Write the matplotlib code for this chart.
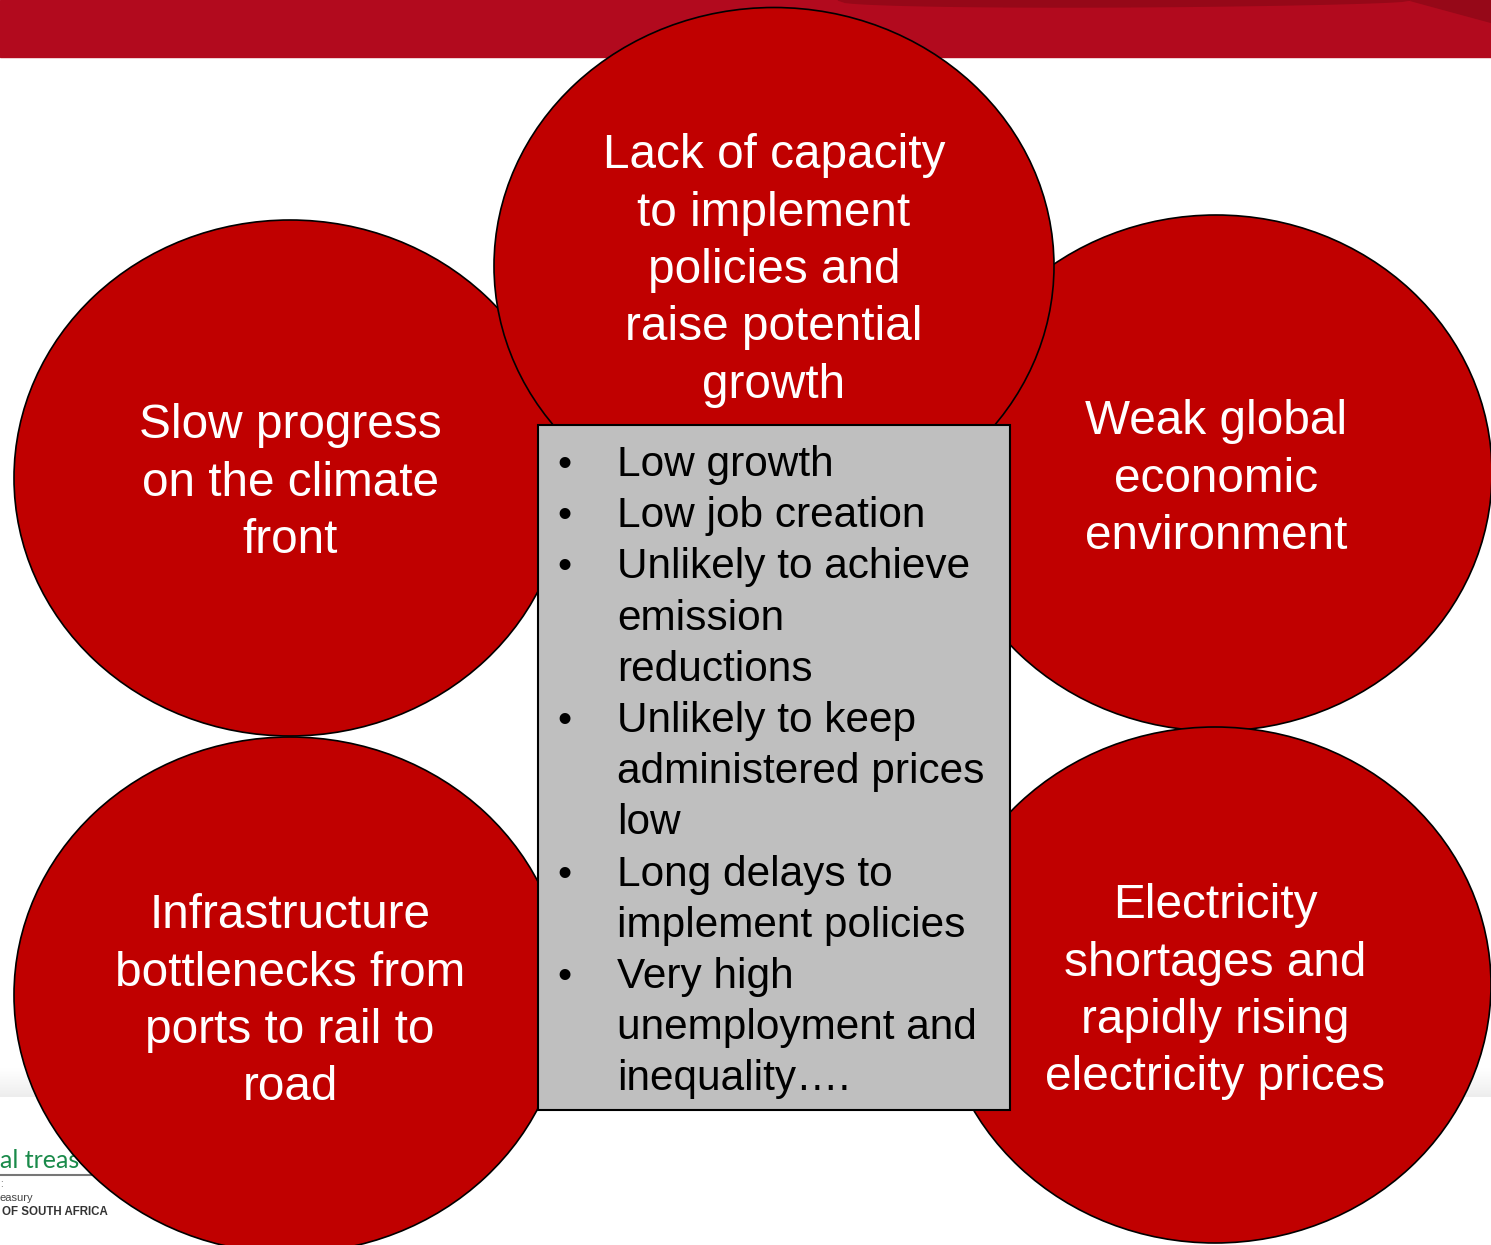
import numpy as np
import matplotlib.pyplot as plt
from matplotlib.patches import Ellipse, Rectangle, Polygon

plt.rcParams['font.family'] = ['Liberation Sans', 'DejaVu Sans']

# texts of the five circles
circle_labels = [
    ["Lack of capacity", "to implement", "policies and", "raise potential", "growth"],
    ["Slow progress", "on the climate", "front"],
    ["Weak global", "economic", "environment"],
    ["Infrastructure", "bottlenecks from", "ports to rail to", "road"],
    ["Electricity", "shortages and", "rapidly rising", "electricity prices"],
]

# bullet items of the central box, already wrapped
box_items = [
    ["Low growth"],
    ["Low job creation"],
    ["Unlikely to achieve", "emission", "reductions"],
    ["Unlikely to keep", "administered prices", "low"],
    ["Long delays to", "implement policies"],
    ["Very high", "unemployment and", "inequality…."],
]

W, H = 1491, 1245
fig = plt.figure(figsize=(W / 100, H / 100), dpi=100)
ax = fig.add_axes([0, 0, 1, 1])
ax.set_xlim(0, W)
ax.set_ylim(H, 0)
ax.axis("off")

red = "#c00000"

# banner at the top
ax.add_patch(Rectangle((0, 0), W, 57, color="#b20a1e", zorder=0))
xs = np.linspace(838, 1410, 80)
t = (xs - 838) / (1410 - 838)
ys = 7 * np.sin(np.pi * t ** 0.75) ** 0.5
ax.add_patch(Polygon(list(zip(xs, ys)) + [(1410, 0), (838, 0)], closed=True,
                     color="#960818", zorder=0.5))
ax.add_patch(Polygon([(1410, 0), (W, 0), (W, 22)], closed=True,
                     color="#960818", zorder=0.5))

# light footer band
grad = np.linspace(0, 1, 30).reshape(-1, 1)
ax.imshow(grad, extent=(0, W, 1097, 1068), cmap="Greys", vmin=0, vmax=7,
          aspect="auto", zorder=0.2)

# logo remains bottom left
ax.text(0, 1160, "al treas", color="#1a8a4a", fontsize=18,
        family="Lato", va="center", ha="left", zorder=1)
ax.plot([0, 100], [1175, 1175], color="#777777", lw=1.5, zorder=1)
ax.text(0, 1184, ":", color="#555555", fontsize=7, va="center", zorder=1)
ax.text(0, 1198, "easury", color="#444444", fontsize=8, va="center", zorder=1)
ax.text(2, 1212, "OF SOUTH AFRICA", color="#333333", fontsize=8.3,
        fontweight="bold", va="center", zorder=1)

# circles: centre x, centre y, width, height, first baseline
circles = [
    (774, 266, 560, 517, 168),
    (290, 478, 552, 516, 438),
    (1216, 473, 552, 516, 434),
    (290, 995, 552, 516, 928),
    (1215, 985, 552, 516, 918),
]
order = [1, 2, 3, 4, 0]
for z, k in enumerate(order):
    cx, cy, w, h, y0 = circles[k]
    ax.add_patch(Ellipse((cx, cy), w, h, facecolor=red, edgecolor="black",
                         lw=1.2, zorder=2 + 0.1 * z))
    for i, line in enumerate(circle_labels[k]):
        ax.text(cx, y0 + i * 57.5, line, color="white", fontsize=34.4,
                ha="center", va="baseline", zorder=2.05 + 0.1 * z)

# central grey box
ax.add_patch(Rectangle((538, 425), 472, 685, facecolor="#bfbfbf",
                       edgecolor="black", lw=1.5, zorder=5))
row = 0
for item in box_items:
    ax.text(564, 476 + row * 51.2, "•", fontsize=29, ha="center",
            va="baseline", zorder=6)
    for line in item:
        ax.text(617, 476 + row * 51.2, line, fontsize=30.5, ha="left",
                va="baseline", zorder=6)
        row += 1

fig.savefig("out.png", dpi=100)
